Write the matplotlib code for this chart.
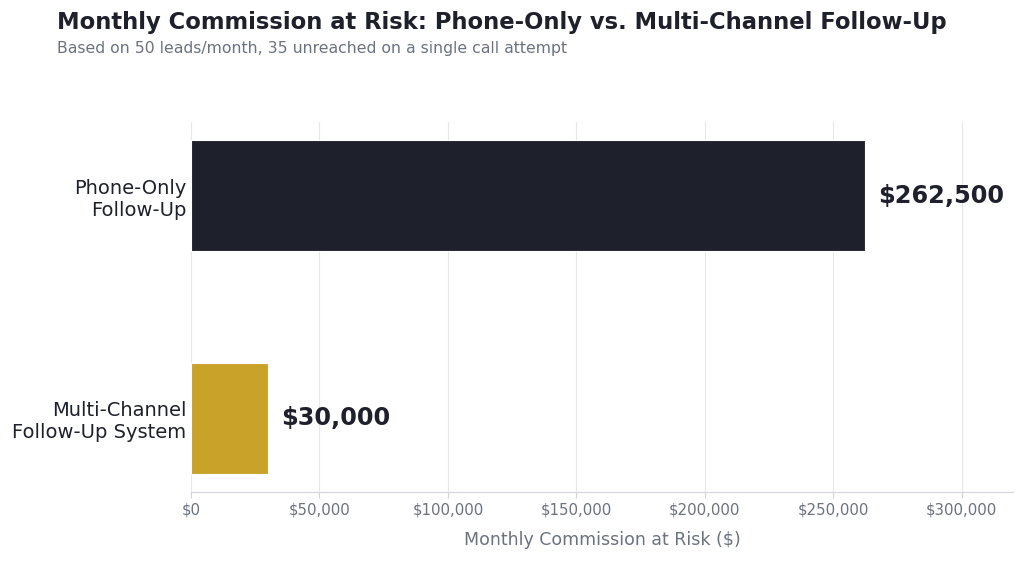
import matplotlib
matplotlib.use("Agg")
import matplotlib.pyplot as plt
from matplotlib.ticker import FuncFormatter

plt.rcParams["font.family"] = ["DejaVu Sans"]

categories = ["Phone-Only\nFollow-Up", "Multi-Channel\nFollow-Up System"]
values = [262500, 30000]
bar_colors = ["#1e212b", "#c9a22a"]
x_ticks = [0, 50000, 100000, 150000, 200000, 250000, 300000]

title = "Monthly Commission at Risk: Phone-Only vs. Multi-Channel Follow-Up"
subtitle = "Based on 50 leads/month, 35 unreached on a single call attempt"

dark = "#1e212b"
gray = "#6b7280"

fig = plt.figure(figsize=(10.24, 5.61), dpi=100)
ax = fig.add_axes([191 / 1024, 1 - 492 / 561, (1013 - 191) / 1024, (492 - 122) / 561])

ypos = list(range(len(categories)))
ax.barh(ypos, values, height=0.5, color=bar_colors, edgecolor="white", linewidth=0.8, zorder=3)

# 값 라벨
for y, v in zip(ypos, values):
    ax.text(v + 5000, y, f"${v:,.0f}", va="center", ha="left",
            fontsize=17.3, fontweight="bold", color=dark)

ax.set_yticks(ypos)
ax.set_yticklabels(categories, fontsize=14, color=dark)
ax.set_ylim(1.33, -0.33)
ax.set_xlim(0, 320000)
ax.set_xticks(x_ticks)
ax.xaxis.set_major_formatter(FuncFormatter(lambda v, p: f"${v:,.0f}"))
ax.tick_params(axis="x", labelsize=10.8, colors=gray, length=4, color="#d1d5db")
ax.tick_params(axis="y", length=0, pad=3.5)
ax.set_xlabel("Monthly Commission at Risk ($)", fontsize=12.5, color=gray, labelpad=10)

ax.grid(axis="x", color="#e5e7eb", linewidth=0.8, zorder=0)
for side in ["top", "right", "left"]:
    ax.spines[side].set_visible(False)
ax.spines["bottom"].set_color("#d1d5db")

fig.text(57 / 1024, 1 - 22 / 561, title, fontsize=16.3, fontweight="bold", color=dark, va="center")
fig.text(57 / 1024, 1 - 48 / 561, subtitle, fontsize=11.35, color=gray, va="center")

fig.savefig("out.png", dpi=100)
